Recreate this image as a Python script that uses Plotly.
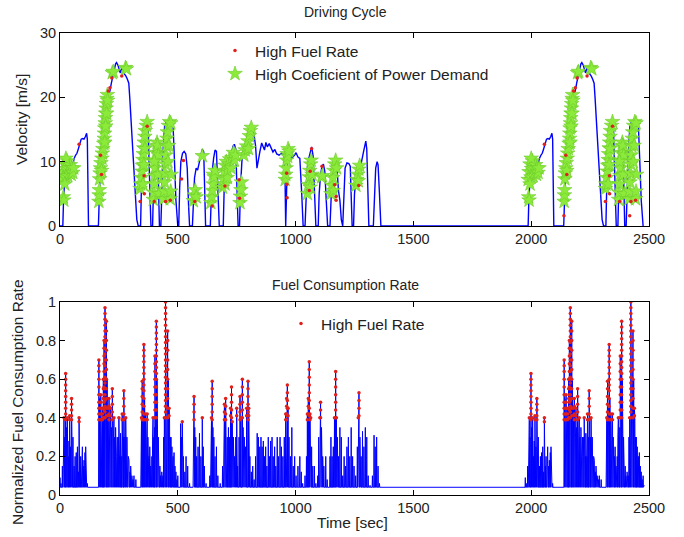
import plotly.graph_objects as go

# ---------------- DATA ----------------
# Velocity [m/s] – first run of the cycle (0–500 s)
vel_run1_t = [0,12,15,18,22,27,32,37,42,48,54,60,66,72,78,84,90,96,102,108,113,116,118,121,163,166,170,176,182,188,
              194,200,206,212,218,224,230,236,240,246,252,256,262,268,274,280,286,292,296,302,308,314,320,326,332,342,345,350,356,362,
              366,370,374,378,382,386,393,396,400,405,410,414,418,422,428,432,438,444,450,458,466,474,480,486,492,500]
vel_run1_v = [0,0,4,7.5,8.5,7.8,9,8.2,9.5,8.5,9.8,10.5,11,11.3,12,12.8,13.5,13.6,13.5,13.9,14.4,13.5,8,0,0,5,8,9.5,11,14,
              17,19.5,20.3,21,22.2,23.3,24,25.2,25.4,25,24.2,23.8,24.6,24.4,23.6,23.3,22.8,22.2,20,16,12,8,4,1,0,0,5,9,13,15.5,
              16.3,16,15.5,10,4,0,0,6,11,13,13.7,13.2,8,0,0,6,12,15.5,16.2,16.3,16,15.8,15.5,10,4,0]
# second run of the same cycle (same speeds, later times)
vel_run2_t = [1975,1987,1990,1993,1997,2002,2007,2012,2017,2023,2029,2035,2041,2047,2053,2059,2065,2071,2077,2083,
              2088,2091,2093,2096,2138,2141,2145,2151,2157,2163,2169,2175,2181,2187,2193,2199,2205,2211,2215,2221,
              2227,2231,2237,2243,2249,2255,2261,2267,2271,2277,2283,2289,2295,2301,2307,2317,2320,2325,2331,2337,
              2341,2345,2349,2353,2357,2361,2368,2371,2375,2380,2385,2389,2393,2397,2403,2407,2413,2419,2425,2433,
              2441,2449,2455,2461,2467,2475]
vel_mid = [(504,0),(508,6),(513,10),(520,11.3),(527,11.6),(534,11.2),(540,9),(546,3),(550,0),(562,0),(566,4),(571,7.5),
           (578,9),(584,8.7),(592,10),(598,11),(604,11.9),(610,11.5),(614,7),(618,0),(638,0),(641,5),(646,8.5),(652,10.5),
           (658,11.8),(664,11.6),(670,7),(676,0),(693,0),(697,6),(703,9.5),(710,10.5),(718,10.3),(726,11),(734,12.4),
           (740,12.7),(746,12),(752,4),(756,0),(762,0),(766,6),(772,10),(780,12.5),(790,13),(800,13.5),(808,14.5),(816,15),
           (824,14),(830,12.5),(836,9),(842,10.5),(848,11.5),(856,12.9),(862,12.2),(868,11.8),(874,13),(880,12.3),(888,12.8),
           (896,12.2),(904,11.5),(912,11.9),(920,11.2),(930,11),(940,11.3),(950,11),(955,8),(958,0),(961,6),(965,10),(970,12),
           (976,11.5),(985,10.6),(995,11),(1002,11.4),(1010,10.7),(1018,10.5),(1026,5),(1032,0),(1040,0),(1044,5),(1050,9),
           (1056,10.5),(1062,11.5),(1068,12.3),(1074,11),(1080,5),(1086,0),(1096,0),(1100,5),(1106,8),(1112,9.3),(1118,9.6),
           (1124,8.5),(1130,4),(1136,0),(1146,0),(1150,5),(1156,9),(1162,10.2),(1168,10.7),(1174,10),(1178,7),(1182,5.5),
           (1188,4),(1194,1),(1200,0),(1204,5),(1210,9),(1218,9.8),(1226,9.7),(1232,9.3),(1236,5),(1240,0),(1246,0),(1250,5),
           (1256,7.5),(1264,8.5),(1272,9),(1280,10),(1288,11.5),(1294,12.8),(1298,13.2),(1302,12),(1306,6),(1311,0),(1330,0),
           (1334,5),(1340,9),(1346,10),(1350,9.5),(1356,5),(1362,0)]

# High coefficient of power demand (green stars) on the velocity plot
stars_run1 = [(14,4.5),(16,4.0),(12,7.2),(16,8.4),(20,9.6),(24,7.6),(27,8.9),(30,10.1),(33,7.8),(36,9.0),(40,8.2),(44,9.5),
              (47,8.0),(50,9.0),(54,8.3),(58,9.0),(20,6.5),(25,10.5),
              (165,3.8),(166,4.8),(167,5.6),(168,7.3),(170,8.2),(172,9.0),(174,9.8),(176,8.6),(178,10.5),(180,11.3),(182,12.0),
              (186,12.8),(188,13.6),(189,14.4),(190,15.2),(192,16.0),(193,16.8),(194,17.5),(196,18.3),(197,19.0),(199,19.8),
              (201,20.4),(190,13.0),(194,15.5),(198,17.5),(202,19.5),(222,23.8),(226,24.0),(278,24.6),(282,24.4),
              (340,5.8),(342,6.5),(345,7.5),(348,8.5),(350,9.4),(352,10.3),(354,11.2),(356,12.1),(358,13.0),(360,13.9),
              (362,14.8),(366,15.6),(370,16.2),(352,6.5),(356,9.5),(360,12.0),
              (396,4.1),(398,5.2),(400,6.5),(402,7.8),(404,9.0),(406,10.2),(408,11.4),(410,12.4),(412,13.0),(414,12.5),
              (418,11.0),(416,8.0),(420,5.0),(400,10.0),
              (440,4.2),(442,5.4),(444,6.8),(446,8.2),(448,9.6),(450,11.0),(452,12.4),(454,13.6),(456,14.6),(460,15.6),
              (465,16.2),(470,16.0),(458,10.0),(462,12.5),(468,4.2),(470,5.4),(472,8.0)]
stars_mid = [(566,3.9),(570,4.8),(574,5.6),(578,4.5),(604,10.9),(640,3.6),(644,4.5),(646,5.5),(650,6.5),(650,8.0),(654,7.6),
             (658,8.6),(690,6.0),(694,7.2),(698,8.4),(700,6.5),(702,9.4),(706,10.0),(710,7.5),(712,8.6),(716,9.6),(720,10.4),
             (726,9.0),(730,10.6),(736,11.4),(740,10.2),(745,11.0),(764,3.6),(766,4.6),(768,5.6),(770,6.8),(780,11.0),
             (786,11.8),(792,12.4),(798,13.2),(800,12.0),(804,14.0),(808,14.8),(812,15.3),(956,7.2),(958,8.0),(960,9.0),
             (962,10.2),(964,11.2),(966,10.8),(968,12.0),(972,11.6),(1050,5.0),(1054,6.4),(1058,7.6),(1060,8.6),(1062,6.0),
             (1064,9.6),(1066,10.2),(1070,8.0),(1110,7.6),(1114,7.8),(1150,5.0),(1154,6.3),(1158,7.5),(1160,5.5),(1162,8.6),
             (1166,9.6),(1170,10.2),(1174,9.0),(1256,6.3),(1260,7.2),(1264,8.0),(1266,7.0),(1268,8.8),(1272,9.4)]
stars_run2 = [(1989,4.5),(1991,4.0),(1987,7.2),(1991,8.4),(1995,9.6),(1999,7.6),(2002,8.9),(2005,10.1),(2008,7.8),(2011,9.0),
              (2015,8.2),(2019,9.5),(2022,8.0),(2025,9.0),(2029,8.3),(2033,9.0),(1995,6.5),(2000,10.5),
              (2140,3.8),(2141,4.8),(2142,5.6),(2143,7.3),(2145,8.2),(2147,9.0),(2149,9.8),(2151,8.6),(2153,10.5),(2155,11.3),
              (2157,12.0),(2161,12.8),(2163,13.6),(2164,14.4),(2165,15.2),(2167,16.0),(2168,16.8),(2169,17.5),(2171,18.3),
              (2172,19.0),(2174,19.8),(2176,20.4),(2165,13.0),(2169,15.5),(2173,17.5),(2177,19.5),(2197,23.8),(2201,24.0),
              (2253,24.6),(2257,24.4),
              (2315,5.8),(2317,6.5),(2320,7.5),(2323,8.5),(2325,9.4),(2327,10.3),(2329,11.2),(2331,12.1),(2333,13.0),
              (2335,13.9),(2337,14.8),(2341,15.6),(2345,16.2),(2327,6.5),(2331,9.5),(2335,12.0),
              (2371,4.1),(2373,5.2),(2375,6.5),(2377,7.8),(2379,9.0),(2381,10.2),(2383,11.4),(2385,12.4),(2387,13.0),
              (2389,12.5),(2393,11.0),(2391,8.0),(2395,5.0),(2375,10.0),
              (2415,4.2),(2417,5.4),(2419,6.8),(2421,8.2),(2423,9.6),(2425,11.0),(2427,12.4),(2429,13.6),(2431,14.6),
              (2435,15.6),(2440,16.2),(2445,16.0),(2433,10.0),(2437,12.5),(2443,4.2),(2445,5.4),(2447,8.0)]

# High fuel rate points visible on the velocity plot
red_vel = [(81,12.7),(172,11.0),(176,8.0),(205,21.0),(212,21.5),(220,23.0),(262,23.3),(340,3.8),(357,7.8),(358,5.0),
           (370,15.5),(400,3.8),(448,3.8),(468,4.0),(516,7.3),(524,10.2),(572,3.8),(646,3.1),(700,6.2),(760,7.2),(762,4.3),
           (962,8.2),(963,6.5),(964,4.4),(1068,12.0),(1062,8.5),(1058,5.5),(1112,9.3),(1166,6.4),(1172,4.6),(1172,4.0),
           (1268,6.3),(2056,12.7),(2147,11.0),(2151,8.0),(2180,21.0),(2187,21.5),(2195,23.0),(2237,23.3),(2315,3.8),
           (2332,7.8),(2333,5.0),(2345,15.5),(2375,3.8),(2423,3.8),(2443,4.0),(2139,1.6),(2418,1.6)]

# Normalized fuel consumption rate: spike times and peak values
idle_rate = 0.04
fuel1_t = [0,4,10,14,17,20,24,27,31,35,38,41,45,49,52,55,60,64,69,74,78,81,85,88,92,95,99,102,106,109,112,116,
           165,168,171,173,176,178,180,182,184,187,189,191,194,197,200,202,204,206,208,211,213,215,218,220,222,225,227,229,
           232,234,236,239,241,243,246,248,250,253,255,257,260,262,264,267,269,271,274,276,279,282,284,286,290,293,297,300,
           305,310,314,322,
           344,346,349,352,354,356,359,361,363,366,368,370,373,376,378,381,385,390,393,395,398,401,403,406,409,412,414,417,
           420,424,427,432,437,440,443,446,448,451,454,457,460,463,465,468,471,475,478,480,484,488,492,496,500]
fuel1_peak = [0.09,0.06,0.15,0.2,0.4,0.3,0.63,0.35,0.4,0.2,0.28,0.41,0.25,0.5,0.2,0.3,0.15,0.2,0.22,0.25,0.12,0.4,0.15,
              0.2,0.2,0.25,0.15,0.18,0.22,0.25,0.2,0.06,
              0.7,0.5,0.3,0.52,0.4,0.3,0.45,0.35,0.6,0.8,0.5,0.97,0.93,0.9,0.6,0.4,0.45,0.3,0.5,0.38,0.3,0.45,0.35,0.3,0.55,
              0.38,0.3,0.4,0.3,0.25,0.35,0.28,0.2,0.3,0.2,0.3,0.4,0.25,0.2,0.32,0.3,0.2,0.42,0.4,0.3,0.54,0.38,0.3,0.4,0.25,
              0.3,0.25,0.2,0.18,0.12,0.15,0.1,0.08,0.1,0.08,
              0.3,0.4,0.59,0.45,0.35,0.78,0.5,0.35,0.42,0.38,0.3,0.42,0.3,0.25,0.2,0.25,0.15,0.2,0.3,0.4,0.3,0.35,0.72,0.5,
              0.9,0.6,0.4,0.3,0.25,0.15,0.1,0.12,0.1,0.3,0.4,0.35,1.0,0.8,0.7,0.85,0.6,0.45,0.4,0.3,0.3,0.25,0.15,0.2,0.22,
              0.15,0.12,0.08,0.1]
fuel2_t = [1975,1979,1985,1989,1992,1995,1999,2002,2006,2010,2013,2016,2020,2024,2027,2030,2035,2039,2044,2049,2053,2056,
           2060,2063,2067,2070,2074,2077,2081,2084,2087,2091,
           2140,2143,2146,2148,2151,2153,2155,2157,2159,2162,2164,2166,2169,2172,2175,2177,2179,2181,2183,2186,2188,2190,
           2193,2195,2197,2200,2202,2204,2207,2209,2211,2214,2216,2218,2221,2223,2225,2228,2230,2232,2235,2237,2239,2242,
           2244,2246,2249,2251,2254,2257,2259,2261,2265,2268,2272,2275,2280,2285,2289,2297,
           2319,2321,2324,2327,2329,2331,2334,2336,2338,2341,2343,2345,2348,2351,2353,2356,2360,2365,2368,2370,2373,2376,
           2378,2381,2384,2387,2389,2392,2395,2399,2402,2407,2412,2415,2418,2421,2423,2426,2429,2432,2435,2438,2440,2443,
           2446,2450,2453,2455,2459,2463,2467,2471,2475]
fuel_mid_t = [512,515,519,524,530,535,542,550,566,569,572,576,580,586,592,598,604,608,613,620,636,640,643,646,649,653,658,
              664,670,680,690,695,698,703,706,710,715,720,724,728,731,736,741,746,750,754,760,764,768,774,777,782,787,792,
              798,801,806,812,818,824,830,837,842,848,853,858,863,868,873,878,884,889,894,900,905,911,916,922,928,934,940,
              946,952,958,962,965,968,972,978,984,990,996,1002,1010,1018,1024,1030,1040,1046,1050,1054,1058,1061,1064,1068,
              1073,1080,1086,1094,1098,1103,1106,1110,1115,1120,1128,1134,1146,1150,1155,1160,1165,1170,1173,1177,1182,1188,
              1194,1200,1206,1212,1218,1224,1230,1236,1242,1248,1255,1262,1266,1269,1273,1278,1284,1290,1296,1302,1308,1316,
              1326,1333,1338,1344,1350,1356]
fuel_mid_peak = [0.37,0.3,0.38,0.2,0.12,0.2,0.15,0.06,0.3,0.51,0.35,0.3,0.2,0.25,0.32,0.2,0.4,0.25,0.15,0.06,0.1,0.22,0.4,
                 0.59,0.35,0.3,0.2,0.25,0.1,0.06,0.15,0.25,0.47,0.5,0.35,0.3,0.35,0.3,0.45,0.56,0.38,0.3,0.2,0.3,0.45,0.15,
                 0.3,0.51,0.4,0.6,0.35,0.3,0.25,0.45,0.59,0.45,0.2,0.12,0.15,0.08,0.2,0.32,0.3,0.25,0.3,0.25,0.28,0.2,0.25,
                 0.15,0.3,0.2,0.28,0.3,0.2,0.25,0.15,0.3,0.2,0.3,0.25,0.2,0.3,0.42,0.5,0.57,0.45,0.3,0.2,0.35,0.15,0.2,0.1,
                 0.15,0.2,0.12,0.06,0.1,0.2,0.42,0.5,0.69,0.42,0.4,0.25,0.15,0.15,0.06,0.1,0.3,0.4,0.48,0.35,0.2,0.15,0.2,
                 0.08,0.2,0.3,0.2,0.25,0.4,0.64,0.4,0.3,0.2,0.35,0.3,0.1,0.2,0.15,0.25,0.3,0.2,0.35,0.2,0.15,0.1,0.25,0.4,
                 0.53,0.3,0.2,0.33,0.25,0.35,0.3,0.1,0.05,0.1,0.31,0.25,0.3,0.15,0.06]
fuel_end = (2480, 0.05)

# High fuel rate samples (red dots) on the fuel plot: time of spike and the sampled levels
hf_run1_t = [17,24,31,41,49,81,165,173,180,184,187,191,197,204,208,215,222,229,250,264,271,279,346,349,356,363,370,395,
             403,409,443,448,457,463]
hf_run1_levels = [[0.4],[0.63,0.6,0.57,0.54,0.51,0.48,0.45,0.42,0.39],[0.4],[0.41,0.39],[0.5,0.47,0.44,0.41,0.39],
                  [0.4,0.38],[0.7,0.67,0.64,0.6,0.56,0.52,0.48,0.45,0.42,0.39],[0.52,0.48,0.45,0.42,0.39],[0.45,0.42,0.39],
                  [0.6,0.55,0.5,0.45,0.4],[0.8,0.76,0.72,0.68,0.64,0.6,0.56,0.52,0.48,0.44,0.4],
                  [0.97,0.94,0.91,0.88,0.85,0.82,0.79,0.76,0.73,0.7,0.67,0.64,0.61,0.58,0.55,0.52,0.49,0.46,0.43,0.4],
                  [0.9,0.85,0.8,0.75,0.7,0.65,0.6,0.55,0.5,0.45,0.41],[0.45,0.41],[0.5,0.46,0.42,0.39],[0.45,0.41],
                  [0.55,0.51,0.47,0.43,0.39],[0.4],[0.4],[0.42,0.39],[0.54,0.5,0.46,0.42,0.39],[0.4],[0.4],
                  [0.59,0.55,0.51,0.47,0.43,0.39],[0.78,0.75,0.72,0.69,0.66,0.63,0.6,0.57,0.54,0.5,0.46,0.42,0.39],
                  [0.42,0.39],[0.42,0.39],[0.4],[0.72,0.68,0.64,0.6,0.56,0.52,0.48,0.44,0.4],
                  [0.9,0.87,0.84,0.81,0.78,0.75,0.72,0.69,0.66,0.63,0.6,0.56,0.52,0.48,0.44,0.4],[0.4],
                  [1.0,0.97,0.94,0.91,0.88,0.85,0.82,0.79,0.76,0.73,0.7,0.67,0.64,0.61,0.58,0.55,0.52,0.49,0.46,0.43,0.4],
                  [0.85,0.8,0.75,0.7,0.65,0.6,0.55,0.5,0.45,0.4],[0.45,0.41]]
hf_run2_t = [1992,1999,2006,2016,2024,2056,2140,2148,2155,2159,2162,2166,2172,2179,2183,2190,2197,2204,2225,2239,2246,
             2254,2321,2324,2331,2338,2345,2370,2378,2384,2418,2423,2432,2438]
hf_mid_t = [519,569,604,643,646,698,703,724,728,731,750,764,768,774,792,798,801,958,962,965,968,1050,1054,1058,1061,1064,
            1103,1106,1165,1170,1173,1266,1269]
hf_mid_levels = [[0.38],[0.51,0.47,0.43,0.39],[0.4],[0.4],[0.59,0.55,0.51,0.47,0.43,0.39],[0.47,0.43,0.39],
                 [0.5,0.46,0.42,0.39],[0.45,0.41],[0.56,0.52,0.48,0.44,0.4],[0.38],[0.45,0.41],[0.51,0.47,0.43,0.39],[0.4],
                 [0.6,0.56,0.52,0.48,0.44,0.4],[0.45,0.41],[0.59,0.55,0.51,0.47,0.43,0.39],[0.45,0.41],[0.42,0.39],
                 [0.5,0.46,0.42,0.39],[0.57,0.53,0.49,0.45,0.41],[0.45,0.41],[0.42,0.39],[0.5,0.46,0.42],
                 [0.69,0.65,0.61,0.57,0.53,0.49,0.45,0.41],[0.42,0.39],[0.4],[0.4],[0.48,0.44,0.4],[0.4],
                 [0.64,0.6,0.56,0.52,0.48,0.44,0.4],[0.4],[0.4],[0.53,0.49,0.45,0.41]]

x_ticks = [0, 500, 1000, 1500, 2000, 2500]
vel_ticks = [0, 10, 20, 30]
fuel_ticks = [0, 0.2, 0.4, 0.6, 0.8, 1]
fuel_tick_text = ["0", "0.2", "0.4", "0.6", "0.8", "1"]

# ---------------- BUILD TRACES ----------------
vel_x = vel_run1_t + [p[0] for p in vel_mid] + vel_run2_t
vel_y = vel_run1_v + [p[1] for p in vel_mid] + vel_run1_v

spikes = sorted(zip(fuel1_t + fuel_mid_t + fuel2_t, fuel1_peak + fuel_mid_peak + fuel1_peak))
fx, fy = [], []
for t, p in spikes:
    fx += [t - 1.2, t, t + 1.2]
    fy += [idle_rate, p, idle_rate]
fx.append(fuel_end[0]); fy.append(fuel_end[1])

hx, hy = [], []
for t, lv in zip(hf_run1_t + hf_mid_t + hf_run2_t, hf_run1_levels + hf_mid_levels + hf_run1_levels):
    hx += [t] * len(lv)
    hy += lv

all_stars = stars_run1 + stars_mid + stars_run2

BLUE = "#0000FF"
RED = "#E0201C"
GREEN = "#8CEB3A"
FONT = "Liberation Sans, Arial, Helvetica, sans-serif"
TXT = "#222222"

fig = go.Figure()
fig.add_trace(go.Scatter(x=vel_x, y=vel_y, mode="lines", line=dict(color=BLUE, width=1.4),
                         showlegend=False, xaxis="x", yaxis="y", hoverinfo="skip"))
fig.add_trace(go.Scatter(x=[s[0] for s in all_stars], y=[s[1] for s in all_stars], mode="markers",
                         marker=dict(symbol="star", size=11, color=GREEN, line=dict(color="#6CCB2A", width=0.6)),
                         name="High Coeficient of Power Demand", legend="legend", legendrank=2,
                         xaxis="x", yaxis="y"))
fig.add_trace(go.Scatter(x=[r[0] for r in red_vel], y=[r[1] for r in red_vel], mode="markers",
                         marker=dict(symbol="circle", size=3.5, color=RED),
                         name="High Fuel Rate", legend="legend", legendrank=1, xaxis="x", yaxis="y"))

fig.add_trace(go.Scatter(x=fx, y=fy, mode="lines", line=dict(color=BLUE, width=1),
                         showlegend=False, xaxis="x2", yaxis="y2", hoverinfo="skip"))
fig.add_trace(go.Scatter(x=hx, y=hy, mode="markers", marker=dict(symbol="circle", size=3.5, color=RED),
                         name="High Fuel Rate", legend="legend2", xaxis="x2", yaxis="y2"))

W, H = 684, 537
L, R = 60, 649
TOP = (33, 226)
BOT = (302, 495)

axis_common = dict(showline=True, linecolor="black", linewidth=1, mirror="ticks", ticks="inside", ticklen=5,
                   tickcolor="black", showgrid=False, zeroline=False, tickfont=dict(family=FONT, size=14.5, color=TXT),
                   automargin=False)

def ann(text, x, y, size, angle=0):
    return dict(text=text, x=x / W, y=1 - y / H, xref="paper", yref="paper", showarrow=False,
                xanchor="center", yanchor="middle", textangle=angle, font=dict(family=FONT, size=size, color=TXT))

fig.update_layout(
    width=W, height=H, margin=dict(l=0, r=0, t=0, b=0),
    paper_bgcolor="white", plot_bgcolor="white",
    xaxis=dict(domain=[L / W, R / W], anchor="y", range=[0, 2500], tickvals=x_ticks, **axis_common),
    yaxis=dict(domain=[1 - TOP[1] / H, 1 - TOP[0] / H], anchor="x", range=[0, 30], tickvals=vel_ticks, **axis_common),
    xaxis2=dict(domain=[L / W, R / W], anchor="y2", range=[0, 2500], tickvals=x_ticks, **axis_common),
    yaxis2=dict(domain=[1 - BOT[1] / H, 1 - BOT[0] / H], anchor="x2", range=[0, 1], tickvals=fuel_ticks,
                ticktext=fuel_tick_text, **axis_common),
    legend=dict(x=215 / W, y=1 - 34 / H, xanchor="left", yanchor="top", bgcolor="rgba(0,0,0,0)",
                font=dict(family=FONT, size=15.5, color=TXT), tracegroupgap=0, itemwidth=30),
    legend2=dict(x=281 / W, y=1 - 307 / H, xanchor="left", yanchor="top", bgcolor="rgba(0,0,0,0)",
                 font=dict(family=FONT, size=15.5, color=TXT), itemwidth=30),
    annotations=[
        ann("Driving Cycle", 345, 12, 14),
        ann("Fuel Consumption Rate", 345, 285, 14),
        ann("Time [sec]", 352, 522, 15.5),
        ann("Velocity [m/s]", 22, 120, 15.5, -90),
        ann("Normalized Fuel Consumption Rate", 17, 402, 15.5, -90),
    ],
)

fig.write_html("out.html")
